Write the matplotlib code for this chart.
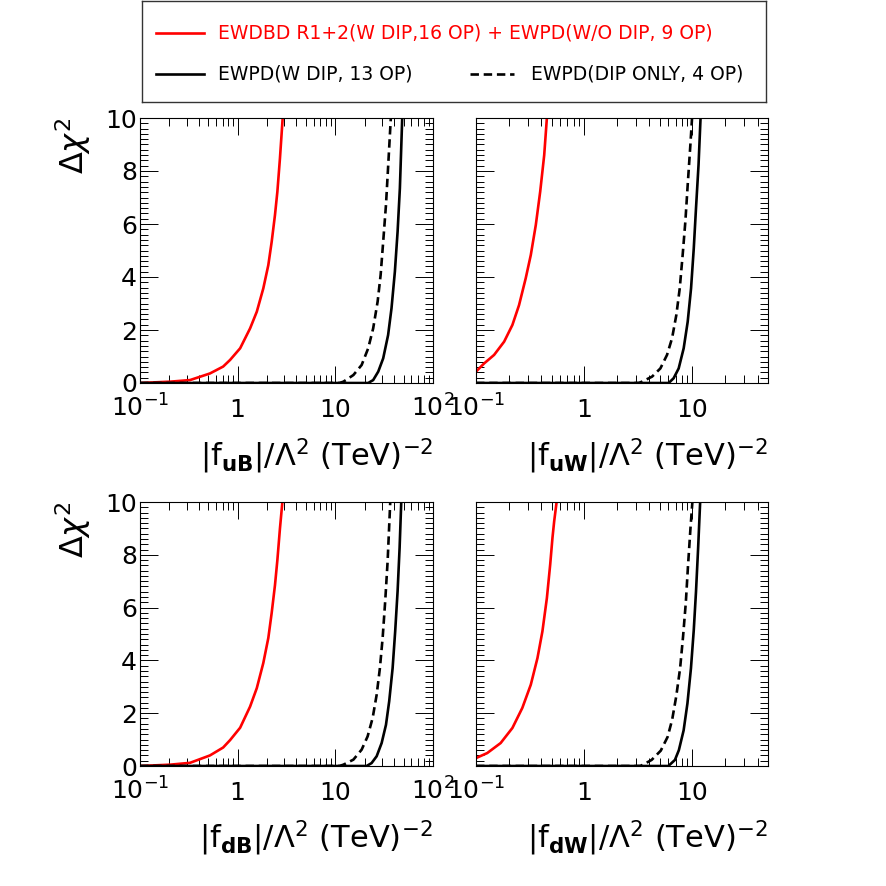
# chi2_scan_panels.py
# Delta chi^2 vs |f|/Lambda^2 for four operators (uB, uW, dB, dW)

import matplotlib.pyplot as plt
from matplotlib.ticker import MultipleLocator, LogLocator, NullFormatter

plt.rcParams['font.family'] = 'DejaVu Sans'
plt.rcParams['mathtext.fontset'] = 'dejavusans'

# ── Curves ────────────────────────────────────────────────────────────────────
# f_uB
uB_red_x = [0.1, 0.203, 0.325, 0.52, 0.71, 0.836, 1.06, 1.34, 1.57, 1.83, 2.06, 2.23, 2.41, 2.55, 2.71, 2.89]
uB_red_y = [0.0, 0.05, 0.11, 0.36, 0.62, 0.87, 1.31, 2.06, 2.69, 3.57, 4.45, 5.33, 6.34, 7.22, 8.48, 10.0]
uB_sol_x = [0.1, 21.7, 24.4, 27.5, 30.9, 34.7, 37.6, 40.7, 43.4, 45.8, 48.4]
uB_sol_y = [0.0, 0.0, 0.11, 0.43, 0.93, 1.81, 2.82, 4.20, 5.71, 7.35, 10.0]
uB_das_x = [0.1, 11.0, 12.1, 15.3, 18.6, 21.7, 24.4, 27.1, 29.1, 30.9, 33.0, 34.8, 37.0]
uB_das_y = [0.0, 0.0, 0.05, 0.30, 0.68, 1.31, 2.06, 3.07, 4.08, 5.33, 6.72, 8.23, 10.0]

# f_uW
uW_red_x = [0.1, 0.119, 0.147, 0.182, 0.217, 0.25, 0.288, 0.321, 0.357, 0.392, 0.427, 0.452]
uW_red_y = [0.43, 0.74, 1.06, 1.56, 2.19, 2.94, 3.95, 4.83, 5.96, 7.22, 8.60, 10.0]
uW_sol_x = [0.1, 6.04, 6.71, 7.47, 8.31, 9.05, 9.72, 10.3, 10.8, 11.4, 11.9]
uW_sol_y = [0.0, 0.0, 0.18, 0.55, 1.31, 2.31, 3.57, 5.08, 6.59, 8.23, 10.0]
uW_das_x = [0.1, 3.2, 3.42, 4.24, 5.06, 5.83, 6.49, 7.11, 7.64, 8.13, 8.61, 9.05, 9.58, 9.93]
uW_das_y = [0.0, 0.0, 0.05, 0.24, 0.55, 1.06, 1.69, 2.57, 3.57, 4.83, 6.09, 7.47, 8.98, 10.0]

# f_dB
dB_red_x = [0.1, 0.203, 0.325, 0.52, 0.71, 0.836, 1.06, 1.34, 1.57, 1.83, 2.06, 2.23, 2.41, 2.55, 2.71, 2.87]
dB_red_y = [0.0, 0.05, 0.12, 0.40, 0.70, 0.98, 1.45, 2.25, 2.95, 3.90, 4.85, 5.80, 6.85, 7.80, 9.00, 10.0]
dB_sol_x = [0.1, 20.9, 23.5, 26.5, 29.8, 33.0, 35.6, 38.6, 41.0, 43.4, 45.5, 47.3]
dB_sol_y = [0.0, 0.0, 0.11, 0.37, 0.87, 1.56, 2.45, 3.71, 5.10, 6.62, 8.26, 10.0]
dB_das_x = [0.1, 11.0, 12.1, 15.3, 18.6, 21.4, 24.1, 26.5, 28.6, 30.5, 32.4, 34.3, 36.5]
dB_das_y = [0.0, 0.0, 0.05, 0.24, 0.62, 1.12, 1.82, 2.70, 3.71, 4.85, 6.24, 7.75, 10.0]

# f_dW
dW_red_x = [0.1, 0.127, 0.169, 0.217, 0.268, 0.321, 0.37, 0.411, 0.452, 0.485, 0.509, 0.528, 0.556]
dW_red_y = [0.30, 0.49, 0.87, 1.44, 2.20, 3.08, 4.09, 5.10, 6.36, 7.63, 8.64, 9.27, 10.0]
dW_sol_x = [0.1, 6.0, 6.9, 7.5, 8.3, 9.0, 9.7, 10.3, 10.8, 11.3, 11.8]
dW_sol_y = [0.0, 0.0, 0.23, 0.60, 1.35, 2.37, 3.70, 5.15, 6.60, 8.25, 10.0]
dW_das_x = [0.1, 3.3, 3.5, 4.2, 5.1, 5.9, 6.5, 7.1, 7.7, 8.2, 8.7, 9.1, 9.6, 10.0]
dW_das_y = [0.0, 0.0, 0.05, 0.23, 0.58, 1.10, 1.75, 2.65, 3.70, 4.90, 6.20, 7.55, 9.00, 10.0]

panels = [
    ('uB', uB_red_x, uB_red_y, uB_sol_x, uB_sol_y, uB_das_x, uB_das_y),
    ('uW', uW_red_x, uW_red_y, uW_sol_x, uW_sol_y, uW_das_x, uW_das_y),
    ('dB', dB_red_x, dB_red_y, dB_sol_x, dB_sol_y, dB_das_x, dB_das_y),
    ('dW', dW_red_x, dW_red_y, dW_sol_x, dW_sol_y, dW_das_x, dW_das_y),
]

left_ticks  = [0.1, 1, 10, 100]
left_labels = [r'$\mathregular{10^{-1}}$', '1', '10', r'$\mathregular{10^{2}}$']
right_ticks  = [0.1, 1, 10]
right_labels = [r'$\mathregular{10^{-1}}$', '1', '10']

leg_red   = 'EWDBD R1+2(W DIP,16 OP) + EWPD(W/O DIP, 9 OP)'
leg_solid = 'EWPD(W DIP, 13 OP)'
leg_dash  = 'EWPD(DIP ONLY, 4 OP)'

# ── Figure layout (pixel boxes of the original) ──────────────────────────────
W = 886.0
fig = plt.figure(figsize=(8.86, 8.86), dpi=100)

boxes = [(140, 118, 293, 265), (476, 118, 292, 265),
         (140, 502, 293, 264), (476, 502, 292, 264)]

LW = 1.9
for i, (name, rx, ry, sx, sy, dx, dy) in enumerate(panels):
    x0, y0, w, h = boxes[i]
    ax = fig.add_axes([x0 / W, 1 - (y0 + h) / W, w / W, h / W])
    is_left = (i % 2 == 0)

    ax.plot(rx, ry, color='red', lw=LW, solid_capstyle='butt')
    ax.plot(sx, sy, color='black', lw=LW)
    ax.plot(dx, dy, color='black', lw=LW, ls=(0, (3.2, 1.8)))

    ax.set_xscale('log')
    ax.set_xlim(0.1, 100 if is_left else 50)
    ax.set_ylim(0, 10)

    ticks, labels = (left_ticks, left_labels) if is_left else (right_ticks, right_labels)
    ax.set_xticks(ticks)
    ax.set_xticklabels(labels, fontsize=18)
    ax.xaxis.set_minor_locator(LogLocator(base=10, subs=range(2, 10), numticks=20))
    ax.xaxis.set_minor_formatter(NullFormatter())
    for lab in ax.get_xticklabels():
        lab.set_va('baseline')

    ax.yaxis.set_major_locator(MultipleLocator(2))
    ax.yaxis.set_minor_locator(MultipleLocator(0.2))

    ax.tick_params(which='both', direction='in', top=True, right=True,
                   width=0.7, color='black')
    ax.tick_params(axis='x', which='major', length=12, pad=24.5, labelsize=18)
    ax.tick_params(axis='x', which='minor', length=6)
    ax.tick_params(axis='y', which='major', length=13, pad=2, labelsize=18)
    ax.tick_params(axis='y', which='minor', length=6)
    if not is_left:
        ax.tick_params(axis='y', labelleft=False)

    for sp in ax.spines.values():
        sp.set_linewidth(0.8)

    ax.set_xlabel(r'$\mathregular{|f_{\mathbf{%s}}|/\Lambda^{2}\ (TeV)^{-2}}$' % name,
                  fontsize=22, loc='right')
    ax.xaxis.set_label_coords(1.0, -0.2)
    if is_left:
        ax.set_ylabel(r'$\Delta\chi^{2}$', fontsize=23, loc='top')
        ax.yaxis.set_label_coords(-0.16, 1.0)

# ── Legend box ────────────────────────────────────────────────────────────────
lx0, ly0, lw_, lh = 142, 1, 624, 101
lax = fig.add_axes([lx0 / W, 1 - (ly0 + lh) / W, lw_ / W, lh / W])
lax.set_xlim(0, lw_)
lax.set_ylim(lh, 0)
lax.set_xticks([])
lax.set_yticks([])
for sp in lax.spines.values():
    sp.set_linewidth(1.0)
    sp.set_color('#333333')

lax.plot([14, 62], [32, 32], color='red', lw=LW)
lax.text(76, 32, leg_red, color='red', fontsize=13.5, va='center')
lax.plot([14, 62], [73, 73], color='black', lw=LW)
lax.text(76, 73, leg_solid, color='black', fontsize=13.5, va='center')
lax.plot([328, 372], [73, 73], color='black', lw=LW, ls=(0, (3.2, 1.8)))
lax.text(389, 73, leg_dash, color='black', fontsize=13.5, va='center')

plt.savefig('out.png', dpi=100)
